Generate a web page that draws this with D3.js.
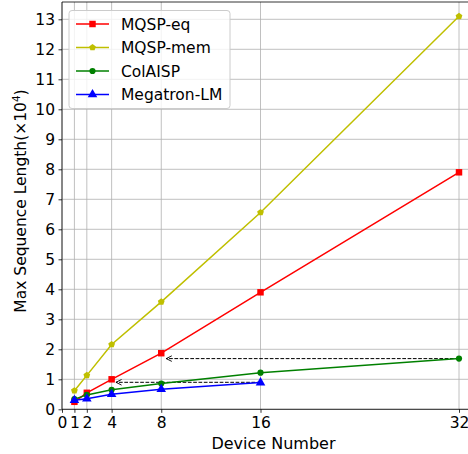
<!DOCTYPE html>
<html>
<head>
<meta charset="utf-8">
<script src="https://cdn.jsdelivr.net/npm/d3@7"></script>
<style>
  body { margin: 0; background: #fff; }
  svg { font-family: "DejaVu Sans", sans-serif; }
</style>
</head>
<body>
<svg id="chart" width="468" height="454"></svg>
<script>
const devices = [1, 2, 4, 8, 16, 32];
const xTicks = [0, 1, 2, 4, 8, 16, 32];
const yTicks = d3.range(0, 14);

const mqspEq = [0.25, 0.55, 1.0, 1.87, 3.9, 7.9];
const mqspMem = [0.62, 1.13, 2.16, 3.58, 6.56, 13.1];
const colaisp = [0.34, 0.48, 0.65, 0.86, 1.22, 1.69];
const megatron = [0.3, 0.35, 0.5, 0.67, 0.89];

const seriesNames = ["MQSP-eq", "MQSP-mem", "ColAISP", "Megatron-LM"];
const seriesColors = ["#ff0000", "#bfbf00", "#008000", "#0000ff"];
const seriesMarkers = ["square", "pentagon", "circle", "triangle"];
const seriesValues = [mqspEq, mqspMem, colaisp, megatron];

// dashed arrows: [fromX, toX, y]
const arrows = [
  [32, 8.4, 1.69],
  [16, 4.35, 0.9]
];

const svg = d3.select("#chart");
const plotLeft = 62, plotBottom = 409.3, plotTop = 2;

const x = d3.scaleLinear().domain([0, 32]).range([plotLeft, 459]);
const y = d3.scaleLinear().domain([0, 13]).range([plotBottom, 19.3]);

// grid
svg.append("g")
  .selectAll("line")
  .data(xTicks)
  .join("line")
  .attr("x1", (d) => x(d)).attr("x2", (d) => x(d))
  .attr("y1", plotTop).attr("y2", plotBottom)
  .attr("stroke", "#b0b0b0").attr("stroke-width", 0.8);

svg.append("g")
  .selectAll("line")
  .data(yTicks)
  .join("line")
  .attr("x1", plotLeft).attr("x2", 468)
  .attr("y1", (d) => y(d)).attr("y2", (d) => y(d))
  .attr("stroke", "#b0b0b0").attr("stroke-width", 0.8);

// axes
const xAxis = d3.axisBottom(x).tickValues(xTicks).tickSize(3.5).tickPadding(4.5);
const yAxis = d3.axisLeft(y).tickValues(yTicks).tickSize(3.5).tickPadding(3.5);

const gx = svg.append("g").attr("transform", `translate(0,${plotBottom})`).call(xAxis);
const gy = svg.append("g").attr("transform", `translate(${plotLeft},0)`).call(yAxis);
[gx, gy].forEach((g) => {
  g.select(".domain").remove();
  g.selectAll("text").attr("font-size", 15.5).attr("fill", "#000")
    .attr("font-family", "DejaVu Sans, sans-serif");
  g.selectAll("line").attr("stroke", "#000").attr("stroke-width", 0.8);
});

// spines
svg.append("line").attr("x1", plotLeft).attr("x2", plotLeft).attr("y1", plotTop).attr("y2", plotBottom)
  .attr("stroke", "#000").attr("stroke-width", 0.8);
svg.append("line").attr("x1", plotLeft).attr("x2", 468).attr("y1", plotBottom).attr("y2", plotBottom)
  .attr("stroke", "#000").attr("stroke-width", 0.8);
svg.append("line").attr("x1", plotLeft).attr("x2", 468).attr("y1", plotTop).attr("y2", plotTop)
  .attr("stroke", "#000").attr("stroke-width", 0.8);

// arrows
svg.append("defs").append("marker")
  .attr("id", "arrowhead")
  .attr("viewBox", "0 0 10 10")
  .attr("refX", 9).attr("refY", 5)
  .attr("markerWidth", 7).attr("markerHeight", 7)
  .attr("markerUnits", "userSpaceOnUse")
  .attr("orient", "auto")
  .append("path")
  .attr("d", "M1,1 L9,5 L1,9")
  .attr("fill", "none").attr("stroke", "#000").attr("stroke-width", 1.3);

svg.append("g")
  .selectAll("line")
  .data(arrows)
  .join("line")
  .attr("x1", (d) => x(d[0])).attr("x2", (d) => x(d[1]))
  .attr("y1", (d) => y(d[2])).attr("y2", (d) => y(d[2]))
  .attr("stroke", "#000").attr("stroke-width", 1)
  .attr("stroke-dasharray", "3.7,1.6")
  .attr("marker-end", "url(#arrowhead)");

const symbolPentagon = {
  draw(ctx, size) {
    const r = Math.sqrt(size / 2.378);
    for (let k = 0; k < 5; k++) {
      const a = -Math.PI / 2 + (k * 2 * Math.PI) / 5;
      if (k === 0) ctx.moveTo(r * Math.cos(a), r * Math.sin(a));
      else ctx.lineTo(r * Math.cos(a), r * Math.sin(a));
    }
    ctx.closePath();
  }
};

const symbolFor = {
  square: d3.symbolSquare,
  pentagon: symbolPentagon,
  circle: d3.symbolCircle,
  triangle: d3.symbolTriangle
};
const sizeFor = { square: 42, pentagon: 30, circle: 30, triangle: 40 };

function drawMarker(g, kind, color, cx, cy) {
  g.append("path")
    .attr("d", d3.symbol(symbolFor[kind], sizeFor[kind])())
    .attr("transform", `translate(${cx},${cy})`)
    .attr("fill", color);
}

// series
const line = d3.line().x((d) => x(d[0])).y((d) => y(d[1]));
seriesValues.forEach((vals, i) => {
  const pts = vals.map((v, j) => [devices[j], v]);
  const g = svg.append("g");
  g.append("path").datum(pts).attr("d", line)
    .attr("fill", "none").attr("stroke", seriesColors[i]).attr("stroke-width", 1.5);
  pts.forEach((p) => drawMarker(g, seriesMarkers[i], seriesColors[i], x(p[0]), y(p[1])));
});

// legend
const legend = svg.append("g");
legend.append("rect")
  .attr("x", 69).attr("y", 10.5).attr("width", 161).attr("height", 98)
  .attr("rx", 3).attr("fill", "#fff").attr("fill-opacity", 0.8)
  .attr("stroke", "#cccccc").attr("stroke-width", 1);
seriesNames.forEach((name, i) => {
  const ly = 24 + i * 23.5;
  legend.append("line").attr("x1", 76).attr("x2", 109).attr("y1", ly).attr("y2", ly)
    .attr("stroke", seriesColors[i]).attr("stroke-width", 1.5);
  drawMarker(legend, seriesMarkers[i], seriesColors[i], 92.5, ly);
  legend.append("text").attr("x", 121).attr("y", ly + 5.5)
    .attr("font-size", 15.5).text(name);
});

// axis labels
svg.append("text")
  .attr("x", 273.5).attr("y", 449)
  .attr("text-anchor", "middle").attr("font-size", 16)
  .text("Device Number");

const yl = svg.append("text")
  .attr("transform", "translate(25.5,201) rotate(-90)")
  .attr("text-anchor", "middle").attr("font-size", 15.5);
yl.append("tspan").text("Max Sequence Length(×10");
yl.append("tspan").attr("font-size", 10.5).attr("dy", -6).text("4");
yl.append("tspan").attr("dy", 6).text(")");
</script>
</body>
</html>
